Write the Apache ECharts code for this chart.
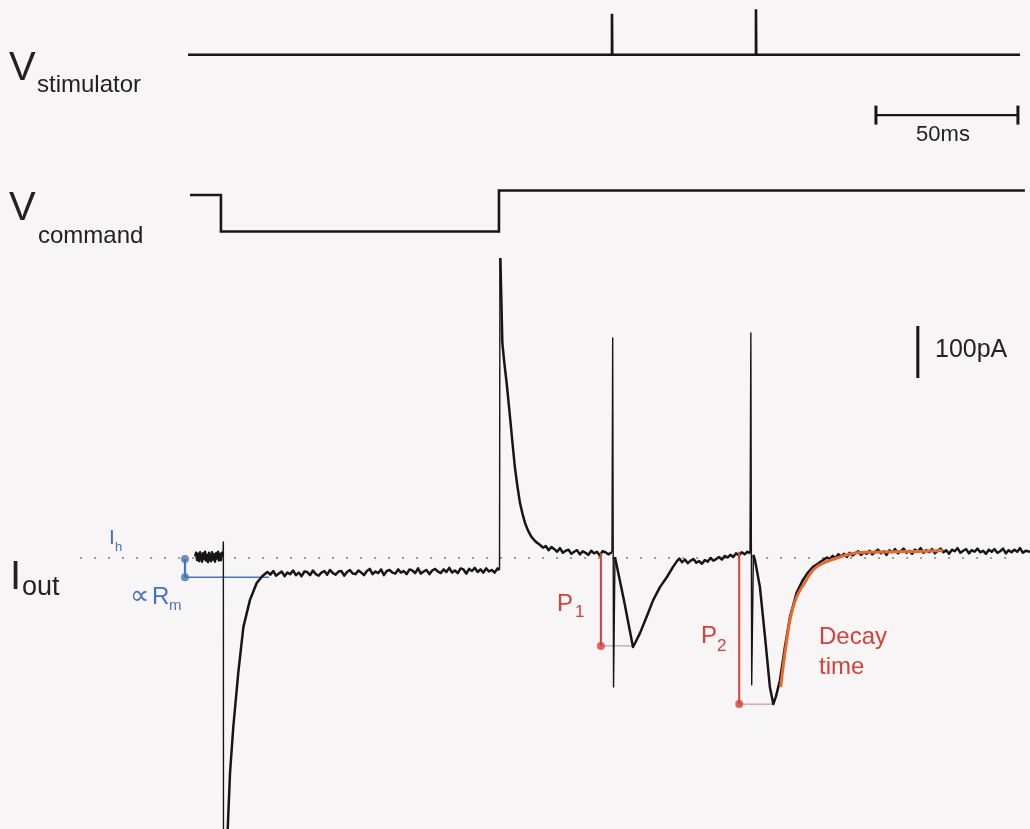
<!DOCTYPE html>
<html>
<head>
<meta charset="utf-8">
<script src="https://cdn.jsdelivr.net/npm/echarts@6/dist/echarts.min.js"></script>
<style>
  html, body { margin: 0; padding: 0; background: #f7f5f5; }
  #chart { width: 1030px; height: 829px; }
</style>
</head>
<body>
<div id="chart"></div>
<script>
// ---- time base shared by all traces (ms) ----
const timeRange = [-66.2, 296.5];

// ---- stimulator output (V), [ms, V] ----
const stimulatorTrace = [[0, 0], [149.3, 0], [149.3, 4.5], [149.4, 0], [200.0, 0], [200.0, 5.0], [200.1, 0], [293, 0]];

// ---- command potential (mV), [ms, mV] ----
const commandTrace = [[0.7, -70.8], [11.6, -70.8], [11.6, -80.4], [109.5, -80.4], [109.5, -69.6], [294.7, -69.6]];

// ---- membrane current (pA, relative to holding current Ih), [ms, pA] ----
const holdingSeg = [
  [2.5, 3], [2.85, 10], [3.2, -4], [3.55, 8], [3.9, -6], [4.25, 11], [4.6, 1], [4.95, -7], [5.3, 9], [5.65, -2],
  [6.0, 12], [6.35, -5], [6.7, 6], [7.05, -8], [7.4, 10], [7.75, 0], [8.1, -6], [8.45, 11], [8.8, -3], [9.15, 7],
  [9.5, -7], [9.85, 9], [10.2, -1], [10.55, 12], [10.9, -5], [11.25, 8], [11.6, -4], [11.95, 10], [12.3, 2]
];
const testPulseSeg = [
  [13.4, -600], [14.8, -413], [15.95, -325], [17.7, -221], [19.5, -133], [21.8, -81], [24.2, -48], [26, -36],
  [27, -31], [28, -27], [29, -32], [30, -25], [31, -34], [32, -30], [33, -26], [34, -35], [35, -28], [36, -31],
  [37, -24], [38, -33], [39, -28], [40, -35], [41, -26], [42, -27], [43, -33], [44, -24], [45, -31], [46, -34],
  [47, -28], [48, -25], [49, -32], [50, -23], [51, -29], [52, -32], [53, -26], [54, -25], [55, -34], [56, -27],
  [57, -23], [58, -30], [59, -31], [60, -24], [61, -28], [62, -33], [63, -25], [64, -21], [65, -31], [66, -26],
  [67, -29], [68, -22], [69, -33], [70, -25], [71, -23], [72, -28], [73, -30], [74, -22], [75, -28], [76, -25],
  [77, -31], [78, -22], [79, -24], [80, -29], [81, -20], [82, -30], [83, -26], [84, -23], [85, -31], [86, -24],
  [87, -21], [88, -26], [89, -29], [90, -22], [91, -27], [92, -19], [93, -28], [94, -24], [95, -29], [96, -20],
  [97, -22], [98, -30], [99, -21], [100, -25], [101, -19], [102, -27], [103, -22], [104, -28], [105, -20],
  [106, -26], [107, -23], [108, -28], [109, -20], [109.7, -23]
];
const offsetSeg = [
  [110.0, 577], [110.7, 413], [111.4, 375], [112.2, 337], [113.4, 271], [114.2, 225], [115.1, 175], [116.0, 138],
  [116.9, 106], [117.8, 85], [118.7, 67], [119.8, 52], [121.0, 40], [122.5, 31], [124, 25], [125, 20], [126, 23],
  [127, 15], [128, 21], [129, 17], [130, 12], [131, 19], [132, 10], [133, 14], [134, 16], [135, 8], [136, 12],
  [137, 15], [138, 7], [139, 13], [140, 10], [141, 6], [142, 14], [143, 9], [144, 12], [145, 5], [146, 13],
  [147, 11], [148, 7], [149.3, 11]
];
const epsc1Seg = [
  [150.35, 2], [153.5, -81], [156.7, -171], [157.5, -163], [159.2, -144], [161.5, -113], [163.8, -81], [166.2, -56],
  [168.6, -37], [170.8, -17], [172.2, -6], [173, -1], [174, -8], [175, -3], [176, -10], [177, -5], [178, -2],
  [179, -9], [180, -6], [181, -11], [182, -4], [183, -7], [184, 0], [185, -5], [186, -2], [187, 2], [188, -3],
  [189, 4], [190, 1], [191, 6], [192, 2], [193, 9], [194, 5], [195, 11], [196, 7], [197, 12], [197.9, 9]
];
const epsc2Seg = [
  [199.1, 6], [199.65, -4], [201.4, -56], [203.2, -152], [204.9, -248], [206.1, -281], [207.0, -267], [208.45, -235],
  [210.2, -171], [212.0, -113], [214.3, -67], [216.55, -42], [218.3, -28], [220.1, -17], [221.8, -11], [223.6, -4],
  [225, 1], [226, -2], [227, 4], [228, 0], [229, 7], [230, 3], [231, 8], [232, 2], [233, 10], [234, 5], [235, 9],
  [236, 13], [237, 6], [238, 11], [239, 8], [240, 14], [241, 7], [242, 12], [243, 16], [244, 9], [245, 13],
  [246, 6], [247, 15], [248, 11], [249, 17], [250, 9], [251, 13], [252, 18], [253, 10], [254, 14], [255, 8],
  [256, 16], [257, 12], [258, 19], [259, 10], [260, 15], [261, 11], [262, 17], [263, 9], [264, 14], [265, 18],
  [266, 11], [267, 15], [268, 8], [269, 16], [270, 13], [271, 19], [272, 10], [273, 14], [274, 17], [275, 9],
  [276, 15], [277, 12], [278, 18], [279, 11], [280, 14], [281, 8], [282, 16], [283, 12], [284, 17], [285, 10],
  [286, 13], [287, 18], [288, 9], [289, 15], [290, 11], [291, 16], [292, 12], [293, 19], [294, 10], [295, 14],
  [296.5, 12]
];
// fast transients (capacitive and stimulus artifacts)
const artifactSegs = [
  [[12.3, 2], [12.45, 31], [12.5, -600]],
  [[109.7, -23], [109.85, 577], [110.0, 577]],
  [[149.3, 11], [149.55, 423], [149.85, -248], [150.35, 2]],
  [[197.9, 9], [198.2, 433], [198.5, -244], [199.1, 6]]
];
// exponential fit to the decay of the second response
const decayFit = [
  [208.7, -248], [210.2, -183], [212.0, -119], [214.3, -75], [217.3, -46], [220.1, -23], [223.6, -10],
  [229.6, 2], [235.6, 10], [247.2, 12], [258.8, 13], [265.8, 15]
];
// holding current reference line
const ihLine = [[-38, 0], [290, 0]];
// steady-state shift during the test pulse (proportional to Rm)
const rmStep = { t: -1.06, top: -2, bottom: -37, end: 28.5 };
// response amplitudes
const peak1 = { t: 145.4, base: 10, peak: -169, troughT: 156.7 };
const peak2 = { t: 194.1, base: 12, peak: -281, troughT: 206.1 };
// scale bars
const timeBar = [242.25, 292.25];   // 50 ms
const timeBarLevel = -6.6;
const currentBar = [346, 446];      // 100 pA
const currentBarTime = 257.0;

const FONT = '"Liberation Sans", Arial, Helvetica, sans-serif';
const BLACK = '#161616';
const RED = '#d6403a';
const ORANGE = '#e8692c';
const BLUE = '#4672c2';

const chart = echarts.init(document.getElementById('chart'), null, { renderer: 'canvas' });

function line(gridIndex, data, color, width, extra) {
  return Object.assign({
    type: 'line', xAxisIndex: gridIndex, yAxisIndex: gridIndex, data: data,
    showSymbol: false, symbol: 'none', silent: true, animation: false,
    lineStyle: { color: color, width: width, cap: 'butt', join: 'round' }
  }, extra || {});
}

const currentSegs = [holdingSeg, testPulseSeg, offsetSeg, epsc1Seg, epsc2Seg];

const series = [
  line(0, stimulatorTrace, BLACK, 2.6, { lineStyle: { color: BLACK, width: 2.6, join: 'miter' } }),
  line(0, [[timeBar[0], timeBarLevel], [timeBar[1], timeBarLevel]], BLACK, 2.4,
    { showSymbol: true, symbol: 'rect', symbolSize: [3, 19], itemStyle: { color: BLACK } }),
  line(1, commandTrace, BLACK, 2.6, { lineStyle: { color: BLACK, width: 2.6, join: 'miter' } }),
  line(2, ihLine, '#7d7d7d', 1.6, { z: 1, lineStyle: { color: '#7d7d7d', width: 1.6, type: [2, 12] } }),
  ...currentSegs.map(s => line(2, s, BLACK, 2.5, { z: 3 })),
  ...artifactSegs.map(s => line(2, s, BLACK, 1.4, { z: 3 })),
  line(2, decayFit, ORANGE, 3, { z: 5, smooth: 0.3 }),
  line(2, [[currentBarTime, currentBar[0]], [currentBarTime, currentBar[1]]], BLACK, 3),
  // Rm annotation
  line(2, [[rmStep.t, rmStep.top], [rmStep.t, rmStep.bottom]], BLUE, 2.2, { z: 4 }),
  line(2, [[rmStep.t, rmStep.bottom], [rmStep.end, rmStep.bottom]], BLUE, 1.4, { z: 2 }),
  { type: 'scatter', xAxisIndex: 2, yAxisIndex: 2, symbolSize: 8, silent: true, animation: false, z: 4,
    itemStyle: { color: BLUE }, data: [[rmStep.t, rmStep.top], [rmStep.t, rmStep.bottom]] },
  // peak amplitude annotations
  ...[peak1, peak2].flatMap(p => [
    line(2, [[p.t, p.base], [p.t, p.peak]], RED, 2, { z: 4 }),
    line(2, [[p.t, p.peak], [p.troughT, p.peak]], '#c08883', 1, { z: 2 })
  ]),
  { type: 'scatter', xAxisIndex: 2, yAxisIndex: 2, symbolSize: 8, silent: true, animation: false, z: 4,
    itemStyle: { color: RED }, data: [[peak1.t, peak1.peak], [peak2.t, peak2.peak]] }
];

function txt(x, y, text, size, color, align) {
  return {
    type: 'text', x: x, y: y, silent: true,
    style: { text: text, font: size + 'px ' + FONT, fill: color || '#222', textAlign: align || 'left', textVerticalAlign: 'middle' }
  };
}

const graphic = [
  txt(9, 69, 'V', 40), txt(37, 85, 'stimulator', 24),
  txt(9, 209, 'V', 40), txt(38, 236, 'command', 24),
  txt(10, 578, 'I', 40), txt(22, 588, 'out', 27),
  txt(943, 135, '50ms', 22, '#222', 'center'),
  txt(935, 350, '100pA', 25),
  txt(109, 538, 'I', 21, BLUE), txt(115, 547, 'h', 13, BLUE),
  txt(130, 597, '\u221d', 27, BLUE), txt(152, 597, 'R', 24, BLUE), txt(169, 606, 'm', 15, BLUE),
  txt(557, 604, 'P', 24, RED), txt(575, 612, '1', 17, RED),
  txt(701, 636, 'P', 24, RED), txt(717, 646, '2', 17, RED),
  txt(819, 637, 'Decay', 24, RED), txt(819, 667, 'time', 24, RED)
];

chart.setOption({
  backgroundColor: '#f7f5f5',
  animation: false,
  grid: [
    { left: 0, right: 0, top: 0, height: 137 },
    { left: 0, right: 0, top: 173, height: 76 },
    { left: 0, right: 0, top: 246, height: 583 }
  ],
  xAxis: [0, 1, 2].map(i => ({ gridIndex: i, type: 'value', min: timeRange[0], max: timeRange[1], show: false })),
  yAxis: [
    { gridIndex: 0, type: 'value', min: -9, max: 6, show: false },
    { gridIndex: 1, type: 'value', min: -85, max: -65, show: false },
    { gridIndex: 2, type: 'value', min: -521.15, max: 600, show: false }
  ],
  series: series,
  graphic: graphic
});
</script>
</body>
</html>
